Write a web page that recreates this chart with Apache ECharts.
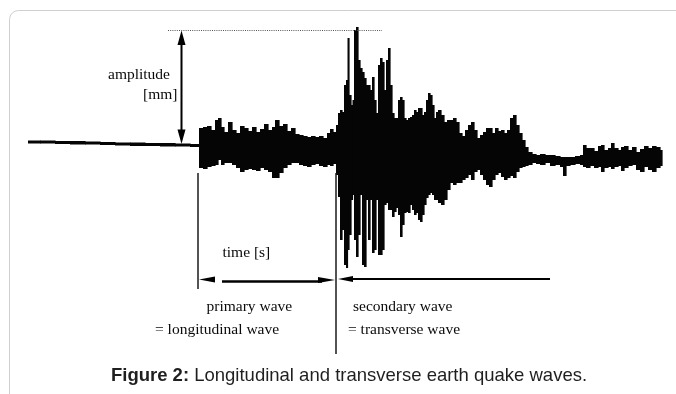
<!DOCTYPE html>
<html>
<head>
<meta charset="utf-8">
<script src="https://cdn.jsdelivr.net/npm/echarts@6/dist/echarts.min.js"></script>
<style>
  html, body { margin: 0; padding: 0; background: #ffffff; }
  #chart { width: 676px; height: 394px; }
</style>
</head>
<body>
<div id="chart"></div>
<script>
// Seismogram trace: time samples and the upper / lower envelope of the recorded amplitude
const time = [
  28, 40, 55, 70, 85, 100, 115, 130, 145, 160, 175, 190, 198,
  199, 203, 207, 211, 215, 218, 221, 224, 228, 232, 236, 240, 244, 248, 252, 256, 260, 264, 268, 272, 275, 279, 283, 287, 291, 295, 299, 303, 307, 311, 315, 319, 323, 327, 330, 333,
  336, 338, 340, 342, 344, 346, 347.5, 349, 351, 352.5, 354, 356, 358, 360, 362, 364, 366, 368, 370, 372, 374, 376, 378, 380, 382, 384, 386, 388, 390, 392, 394, 396, 398, 400, 402, 404, 406, 408, 410, 412, 414, 416, 418, 420, 422, 424, 426, 428, 430, 432, 434, 436, 438, 441, 444, 447, 450, 453, 456, 459, 462, 465, 468, 471, 474, 477, 480, 483, 486, 489, 492, 495, 498, 501, 504, 507, 510, 513, 516, 519, 522, 525, 528, 532, 536, 540, 545, 550, 555, 560, 563, 566, 570, 575, 580,
  583, 586, 590, 594, 598, 601, 604, 608, 611, 614, 618, 621, 624, 628, 632, 636, 640, 644, 648, 652, 656, 660
];
const upper = [
  4.5, 4.5, 4, 4, 3.5, 3, 2.5, 2.5, 2, 2, 1.5, 1, 1,
  17, 18, 19, 15, 25, 27, 18, 13, 23, 15, 12, 19, 17, 14, 18, 13, 16, 21, 15, 18, 25, 19, 21, 14, 17, 11, 10, 9, 8, 9, 8, 9, 7, 12, 16, 13,
  20, 32, 35, 33, 60, 65, 107, 50, 40, 45, 115, 118, 85, 77, 73, 67, 60, 60, 55, 68, 45, 32, 80, 87, 83, 55, 85, 97, 60, 32, 27, 27, 45, 48, 45, 27, 25, 27, 28, 30, 35, 33, 37, 37, 30, 33, 45, 52, 50, 40, 27, 33, 35, 30, 23, 25, 25, 27, 23, 12, 9, 15, 20, 23, 15, 7, 10, 13, 17, 17, 12, 17, 14, 15, 12, 15, 27, 30, 20, 12, 5, -2, -7, -9, -10, -9, -10, -10, -11, -12, -12, -12, -12, -11, -10,
  0, -3, -3, -6, -1, 0, -5, -3, 2, -3, -5, -2, -1, -5, -2, -7, -4, -1, -3, -1, -2, -5
];
const lower = [
  1.5, 1.5, 1, 0.5, 0.5, 0, -0.5, -1, -1, -1.5, -1.5, -2, -2,
  -23, -24, -22, -21, -20, -15, -20, -18, -18, -20, -23, -27, -25, -24, -25, -26, -23, -25, -27, -33, -33, -28, -23, -20, -18, -18, -20, -21, -22, -20, -19, -21, -22, -20, -21, -19,
  -30, -52, -95, -85, -120, -123, -105, -90, -55, -50, -95, -112, -90, -50, -120, -122, -55, -95, -55, -108, -105, -55, -110, -110, -105, -60, -58, -65, -65, -72, -67, -63, -70, -92, -80, -68, -67, -68, -60, -65, -70, -68, -75, -77, -70, -60, -53, -50, -48, -50, -55, -55, -58, -60, -55, -45, -38, -40, -38, -38, -35, -33, -30, -35, -27, -25, -30, -35, -40, -42, -35, -30, -28, -32, -35, -33, -31, -33, -27, -23, -22, -21, -20, -18, -19, -20, -18, -21, -20, -22, -31, -21, -20, -19, -20,
  -22, -23, -21, -23, -22, -27, -23, -22, -24, -22, -21, -26, -23, -21, -20, -25, -27, -22, -25, -27, -23, -21
];
// Arrival times of the two wave fronts and the peak amplitude reference
const pArrival = 198;
const sArrival = 336;
const peakAmplitude = 114.5;

const chart = echarts.init(document.getElementById('chart'), null, { renderer: 'canvas' });
const seriesData = time.map((t, i) => [t, upper[i], lower[i]]);

const serif = 'Liberation Serif, Times New Roman, serif';
const txtColor = '#0a0a0a';
function label(x, y, text) {
  return { type: 'text', x: x, y: y, style: { text: text, fill: txtColor, font: '15.5px ' + serif, textAlign: 'left', textVerticalAlign: 'middle' } };
}

const option = {
  animation: false,
  backgroundColor: '#ffffff',
  grid: { left: 0, right: 0, top: 0, bottom: 0 },
  xAxis: { type: 'value', min: 0, max: 676, show: false },
  yAxis: { type: 'value', min: -249, max: 145, show: false },
  series: [{
    type: 'custom',
    data: seriesData,
    renderItem: function (params, api) {
      const i = params.dataIndex;
      const t0 = api.value(0);
      const t1 = i < time.length - 1 ? time[i + 1] : t0 + 2;
      const p0 = api.coord([t0, api.value(1)]);
      const p1 = api.coord([t1, api.value(2)]);
      return {
        type: 'rect',
        shape: { x: p0[0], y: p0[1], width: p1[0] - p0[0] + 0.6, height: Math.max(p1[1] - p0[1], 1) },
        style: { fill: '#050505' }
      };
    },
    markLine: {
      silent: true,
      symbol: 'none',
      label: { show: false },
      lineStyle: { color: '#1a1a1a', width: 1.5, type: 'solid' },
      data: [
        [{ coord: [pArrival, -28] }, { coord: [pArrival, -144] }],
        [{ coord: [sArrival, -28] }, { coord: [sArrival, -209] }],
        [{ coord: [168, peakAmplitude], lineStyle: { color: '#555', width: 1, type: [1, 1.2] } },
         { coord: [382, peakAmplitude] }]
      ]
    }
  }],
  graphic: [
    { type: 'rect', shape: { x: 9.5, y: 10.5, width: 720, height: 420, r: 9 }, style: { fill: 'none', stroke: '#cfcfcf', lineWidth: 1 }, z: -1 },
    // amplitude double arrow
    { type: 'line', shape: { x1: 181.5, y1: 44, x2: 181.5, y2: 131 }, style: { stroke: '#000', lineWidth: 2 } },
    { type: 'polygon', shape: { points: [[181.5, 30.5], [177.5, 45], [185.5, 45]] }, style: { fill: '#000' } },
    { type: 'polygon', shape: { points: [[181.5, 144], [177.5, 129.5], [185.5, 129.5]] }, style: { fill: '#000' } },
    // time arrows
    { type: 'polygon', shape: { points: [[199, 279.5], [215, 276.5], [215, 282.5]] }, style: { fill: '#000' } },
    { type: 'line', shape: { x1: 222, y1: 281.5, x2: 322, y2: 281.5 }, style: { stroke: '#000', lineWidth: 2.5 } },
    { type: 'polygon', shape: { points: [[335, 280], [318, 277], [318, 283]] }, style: { fill: '#000' } },
    { type: 'polygon', shape: { points: [[338, 279], [353, 276], [353, 282]] }, style: { fill: '#000' } },
    { type: 'line', shape: { x1: 350, y1: 279, x2: 550, y2: 279 }, style: { stroke: '#000', lineWidth: 2 } },
    // labels
    label(108, 75, 'amplitude'),
    label(143, 95, '[mm]'),
    label(222.5, 253, 'time [s]'),
    label(206.5, 307, 'primary wave'),
    label(155, 330, '= longitudinal wave'),
    label(353, 307, 'secondary wave'),
    label(348, 330, '= transverse wave'),
    {
      type: 'text', x: 349, y: 375.5,
      style: {
        text: '{b|Figure 2:} Longitudinal and transverse earth quake waves.',
        textAlign: 'center', textVerticalAlign: 'middle',
        fill: '#1f1f1f',
        font: '18.5px Liberation Sans, Arial, sans-serif',
        rich: { b: { fontWeight: 'bold', fontSize: 18.5, fontFamily: 'Liberation Sans, Arial, sans-serif', fill: '#1f1f1f' } }
      }
    }
  ]
};
chart.setOption(option);
</script>
</body>
</html>
